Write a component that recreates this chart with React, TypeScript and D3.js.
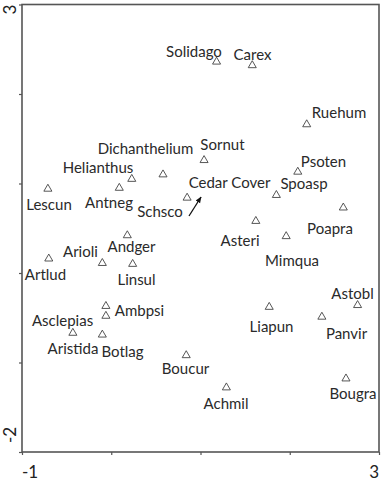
import React, { useEffect, useRef } from "react";
import * as d3 from "d3";

const species = ["Solidago","Carex","Ruehum","Sornut","Psoten","Dichanthelium","Helianthus","Lescun","Antneg","Schsco","Spoasp","Poapra","Asteri","Mimqua","Andger","Arioli","Linsul","Artlud","Ambpsi","Asclepias","Aristida","Botlag","Liapun","Astobl","Panvir","Boucur","Achmil","Bougra"];
const axis1 = [1.18,1.58,2.19,1.04,2.09,0.58,0.23,-0.71,0.09,0.85,1.85,2.60,1.62,1.96,0.18,-0.10,0.24,-0.70,-0.06,-0.06,-0.43,-0.10,1.77,2.76,2.36,0.84,1.29,2.63];
const axis2 = [2.36,2.32,1.66,1.26,1.13,1.10,1.05,0.94,0.95,0.84,0.87,0.73,0.58,0.41,0.42,0.11,0.10,0.16,-0.37,-0.48,-0.67,-0.69,-0.38,-0.36,-0.49,-0.92,-1.28,-1.18];
const labelAxis1 = [0.927,1.583,2.552,1.246,2.378,0.384,-0.148,-0.697,-0.025,0.546,2.160,2.451,1.443,2.025,0.227,-0.345,0.283,-0.737,0.317,-0.546,-0.429,0.126,1.796,2.703,2.636,0.832,1.286,2.709];
const labelAxis2 = [2.469,2.436,1.788,1.430,1.240,1.385,1.173,0.760,0.788,0.682,0.994,0.492,0.358,0.134,0.291,0.235,-0.073,-0.017,-0.425,-0.536,-0.849,-0.883,-0.603,-0.235,-0.682,-1.067,-1.464,-1.346];

const vectorName = "Cedar Cover";
const vectorStart = [0.871, 0.637];
const vectorEnd = [1.006, 0.849];
const vectorLabel = [1.325, 1.006];

const xTicks = [-1, 0, 1, 2, 3];
const yTicks = [-2, -1, 0, 1, 2, 3];
const xDomain = [-1, 3];
const yDomain = [-2, 3];

const W = 383, H = 485;
const left = 22, right = 379, top = 4.5, bottom = 452;
const FONT = "Lato, 'Open Sans', sans-serif";

export default function App() {
  const ref = useRef<SVGSVGElement>(null);
  const x = d3.scaleLinear().domain(xDomain).range([left, right]);
  const y = d3.scaleLinear().domain(yDomain).range([bottom, top]);

  useEffect(() => {
    const svg = d3.select(ref.current);
    const gx = svg.select<SVGGElement>("g.xaxis");
    gx.call(d3.axisBottom(x).tickValues(xTicks).tickSize(3).tickFormat(() => "") as any);
    gx.select(".domain").remove();
    gx.selectAll("line").attr("stroke", "#555").attr("stroke-width", 1.2);
    const gy = svg.select<SVGGElement>("g.yaxis");
    gy.call(d3.axisLeft(y).tickValues(yTicks).tickSize(3).tickFormat(() => "") as any);
    gy.select(".domain").remove();
    gy.selectAll("line").attr("stroke", "#555").attr("stroke-width", 1.2);
  }, []);

  const tri = d3.symbol().type(d3.symbolTriangle).size(28)();

  return (
    <svg ref={ref} width={W} height={H} style={{ position: "absolute", left: 0, top: 0, background: "#fff" }}>
      <defs>
        <marker id="ah" viewBox="0 0 10 10" refX="9" refY="5" markerWidth="5" markerHeight="5" orient="auto">
          <path d="M0,1 L10,5 L0,9 z" fill="#111" />
        </marker>
      </defs>
      <g className="xaxis" transform={`translate(0,${bottom})`} />
      <g className="yaxis" transform={`translate(${left},0)`} />
      <rect x={left} y={top} width={right - left} height={bottom - top} fill="none" stroke="#555" strokeWidth={1.6} />
      {species.map((s, i) => (
        <path key={"p" + s} d={tri!} transform={`translate(${x(axis1[i])},${y(axis2[i])})`} fill="none" stroke="#444" strokeWidth={0.9} />
      ))}
      {species.map((s, i) => (
        <text key={"t" + s} x={x(labelAxis1[i])} y={y(labelAxis2[i])} dy="0.36em" textAnchor="middle" fontFamily={FONT} fontSize={15} fill="#2a2a2a">{s}</text>
      ))}
      <line x1={x(vectorStart[0])} y1={y(vectorStart[1])} x2={x(vectorEnd[0])} y2={y(vectorEnd[1])} stroke="#111" strokeWidth={1.3} markerEnd="url(#ah)" />
      <text x={x(vectorLabel[0])} y={y(vectorLabel[1])} dy="0.36em" textAnchor="middle" fontFamily={FONT} fontSize={15} fill="#2a2a2a">{vectorName}</text>
      <text x={x(xDomain[0])} y={478} textAnchor="start" fontFamily={FONT} fontSize={17} fill="#222">{String(xDomain[0])}</text>
      <text x={x(xDomain[1])} y={478} textAnchor="end" fontFamily={FONT} fontSize={17} fill="#222">{String(xDomain[1])}</text>
      <text transform={`translate(16,${y(yDomain[0]) - 9}) rotate(-90)`} textAnchor="start" fontFamily={FONT} fontSize={17} fill="#222">{String(yDomain[0])}</text>
      <text transform={`translate(16,${y(yDomain[1])}) rotate(-90)`} textAnchor="end" fontFamily={FONT} fontSize={17} fill="#222">{String(yDomain[1])}</text>
    </svg>
  );
}
